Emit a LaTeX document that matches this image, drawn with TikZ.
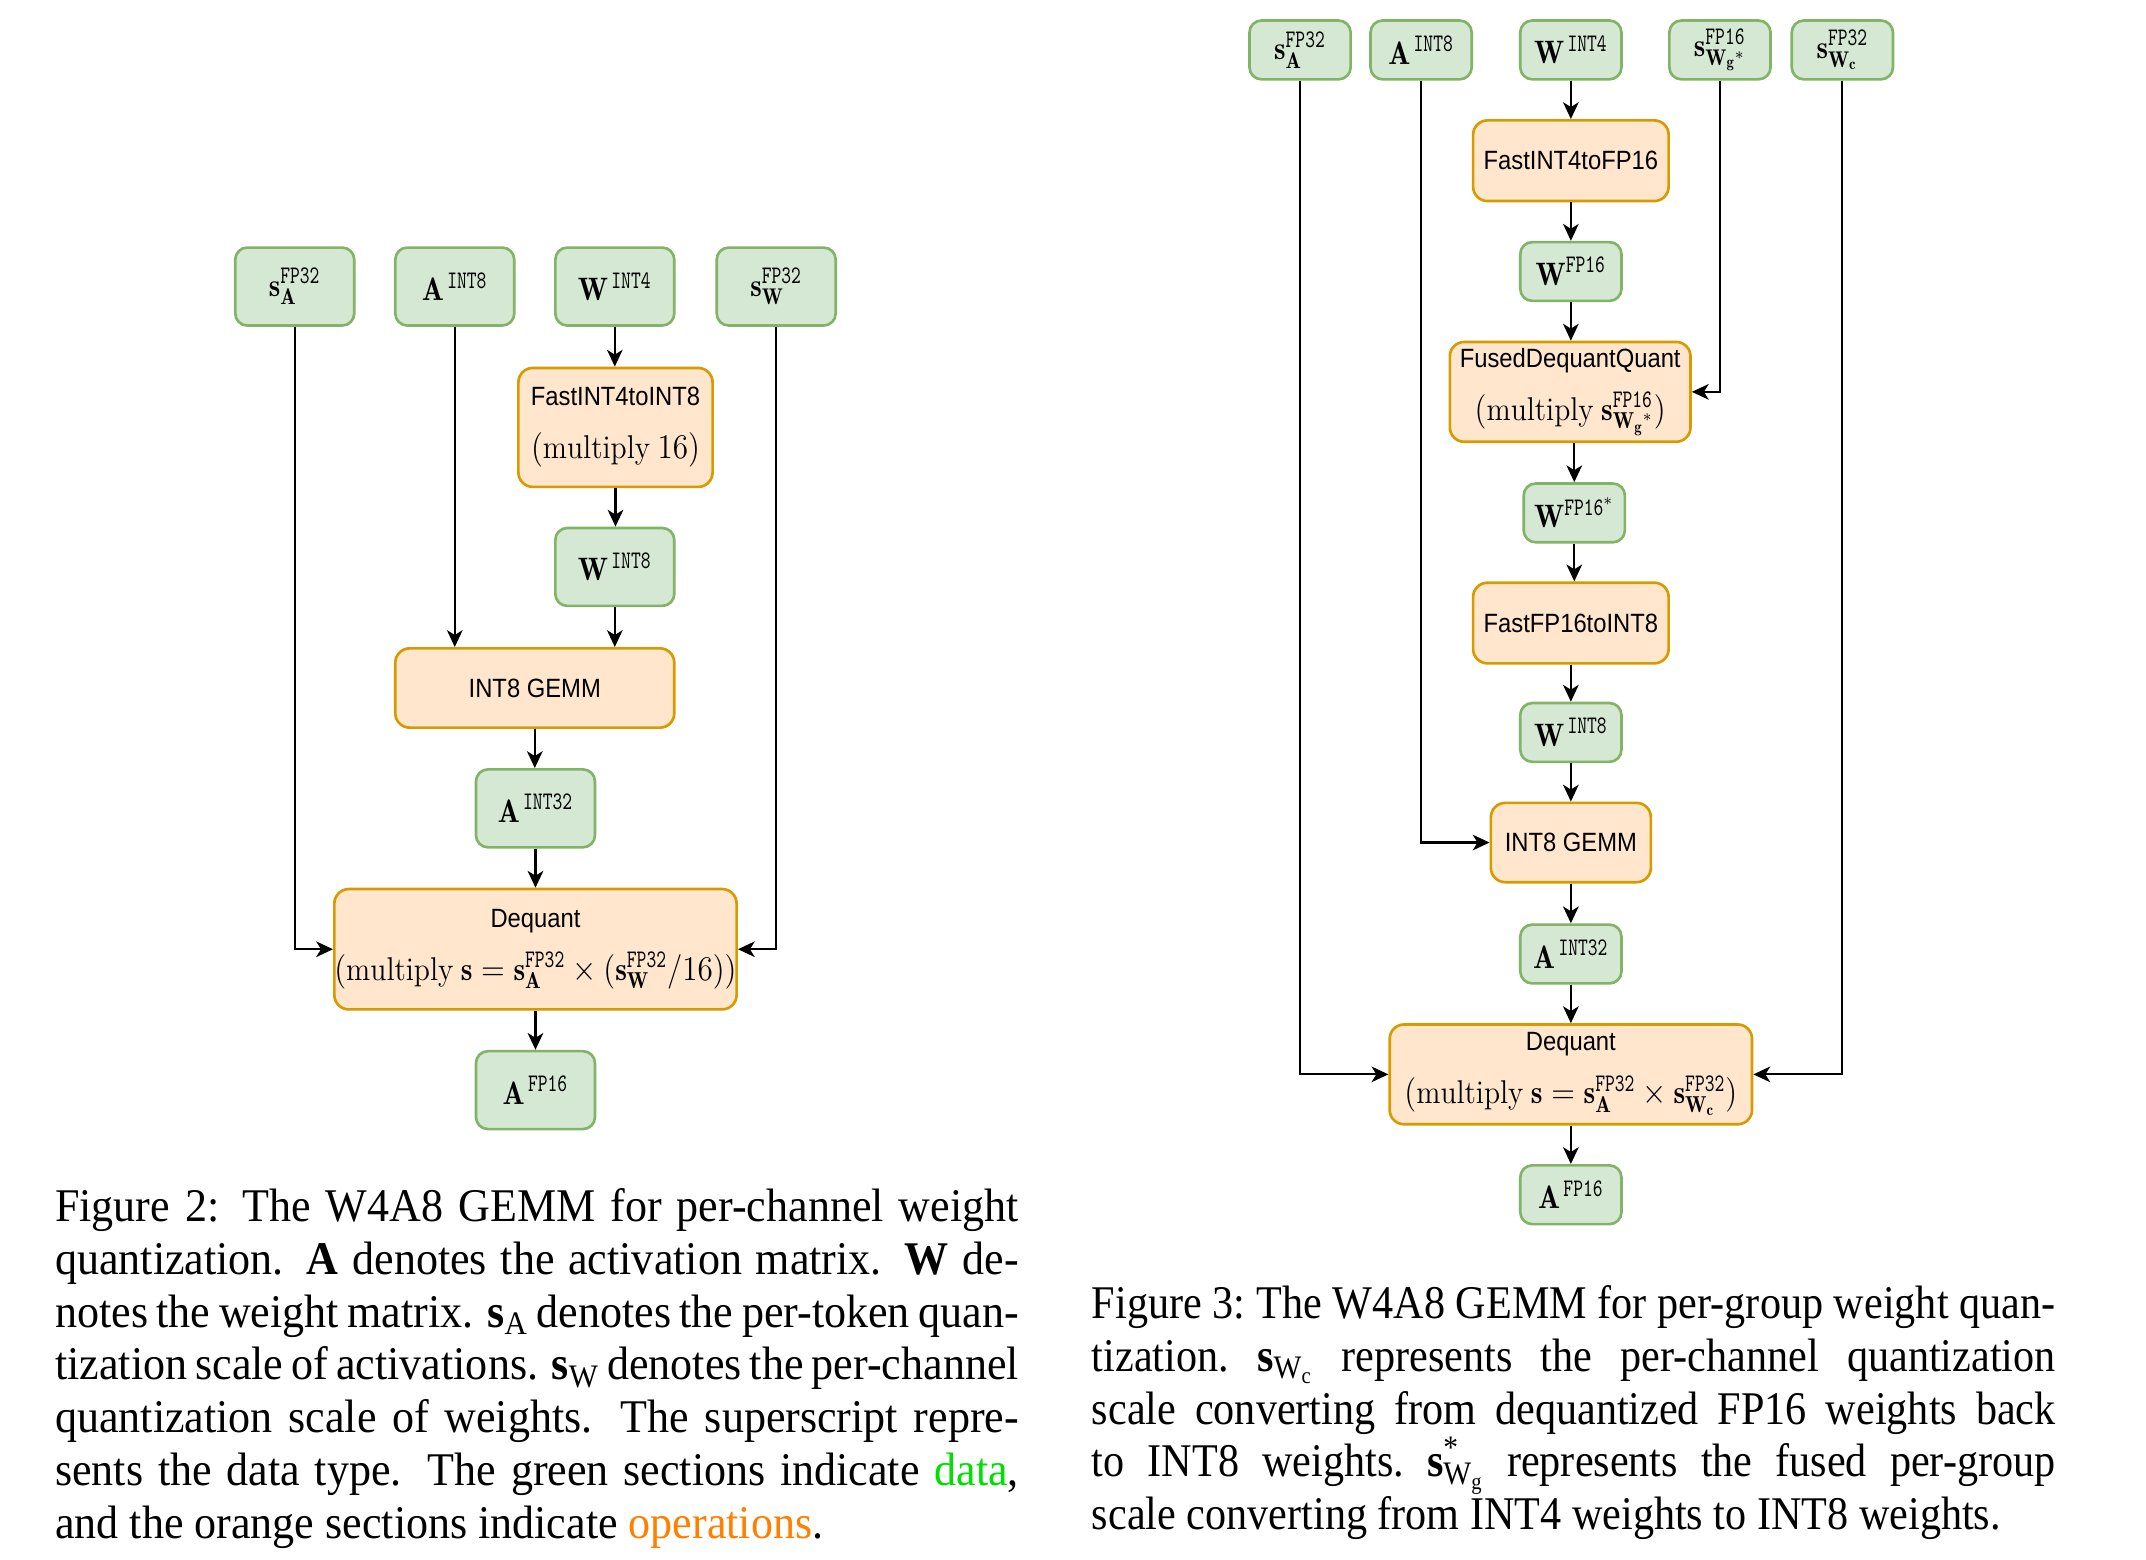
\documentclass[tikz,border=0pt]{standalone}
\usepackage{graphicx}
\usepackage{fontspec}
\newfontfamily\opfont{Liberation Sans}[FakeStretch=0.9]
\newfontfamily\capfont{Liberation Serif}[FakeStretch=0.94]
\newfontfamily\capfontb{Liberation Serif}[FakeStretch=0.9]
\newfontfamily\supfont{Latin Modern Mono}[FakeStretch=0.82]
\usetikzlibrary{arrows.meta}
\definecolor{dfill}{HTML}{D5E8D4}
\definecolor{ddraw}{HTML}{82B366}
\definecolor{ofill}{HTML}{FFE6CC}
\definecolor{odraw}{HTML}{D79B00}
\definecolor{capgreen}{HTML}{00E000}
\definecolor{caporange}{HTML}{FF8000}
\tikzset{
  dbox/.style={draw=ddraw, fill=dfill, line width=1.1pt, rounded corners=5pt, inner sep=0pt, font=\fontsize{12}{14}\selectfont},
  lsm/.style={dbox, minimum width=1.74cm, minimum height=1.14cm},
  rsm/.style={dbox, minimum width=1.48cm, minimum height=0.86cm},
  obox/.style={draw=odraw, fill=ofill, line width=1.1pt, rounded corners=6pt, inner sep=0pt, align=center, font=\fontsize{11}{22}\selectfont\opfont},
  arr/.style={-{Stealth[length=7pt,width=6.5pt,inset=2pt]}, line width=0.9pt},
  captext/.style={text width=401pt, align=justify, inner sep=0pt, font=\capfont\fontsize{19.5}{21.97}\selectfont, anchor=base west},
}
\newcommand{\ty}[1]{\mbox{\fontsize{10.5}{10.5}\selectfont\supfont #1}}
\newcommand{\lab}[1]{\scalebox{0.9}[1]{\fontsize{13.5}{15}\selectfont$#1$}}
\newcommand{\mth}[1]{\scalebox{0.9}[1]{\fontsize{13.7}{22}\selectfont$#1$}}
\begin{document}
\begin{tikzpicture}[x=0.02cm, y=-0.02cm]
\fill[white] (0,0) rectangle (1569,1140);
\useasboundingbox (0,0) rectangle (1569,1140);

% ---------------- left diagram ----------------
\node[lsm] (lsA) at (215.5,209.5) {\lab{\mathbf{s}^{\ty{FP32}}_{\mathbf{A}}}};
\node[lsm] (lA)  at (332.5,209.5) {\lab{\mathbf{A}^{\,\ty{INT8}}}};
\node[lsm] (lW)  at (449.5,209.5) {\lab{\mathbf{W}^{\,\ty{INT4}}}};
\node[lsm] (lsW) at (567.5,209.5) {\lab{\mathbf{s}^{\ty{FP32}}_{\mathbf{W}}}};
\node[obox, minimum width=2.84cm, minimum height=1.74cm] (lfast) at (450,312.5)
  {FastINT4toINT8\\\mth{(\mathrm{multiply}\ 16)}};
\node[lsm] (lW8) at (449.5,414.5) {\lab{\mathbf{W}^{\,\ty{INT8}}}};
\node[obox, minimum width=4.08cm, minimum height=1.16cm] (lgemm) at (391,503) {INT8 GEMM};
\node[lsm] (lA32) at (391.5,591) {\lab{\mathbf{A}^{\,\ty{INT32}}}};
\node[obox, minimum width=5.86cm, minimum height=1.76cm] (ldq) at (391.5,694)
  {Dequant\\\mth{(\mathrm{multiply}\ \mathbf{s}=\mathbf{s}^{\ty{FP32}}_{\mathbf{A}}\times(\mathbf{s}^{\ty{FP32}}_{\mathbf{W}}/16))}};
\node[lsm] (lA16) at (391.5,797) {\lab{\mathbf{A}^{\,\ty{FP16}}}};

\draw[arr] (lW.south) -- (lW.south |- lfast.north);
\draw[arr] (lfast.south) -- (lfast.south |- lW8.north);
\draw[arr] (lW8.south) -- (lW8.south |- lgemm.north);
\draw[arr] (lA.south) -- (lA.south |- lgemm.north);
\draw[arr] (lgemm.south) -- (lgemm.south |- lA32.north);
\draw[arr] (lA32.south) -- (lA32.south |- ldq.north);
\draw[arr] (ldq.south) -- (ldq.south |- lA16.north);
\draw[arr] (lsA.south) |- (ldq.west);
\draw[arr] (lsW.south) |- (ldq.east);

% ---------------- right diagram ----------------
\node[rsm] (rsA)  at (950.5,36.5) {\lab{\mathbf{s}^{\ty{FP32}}_{\mathbf{A}}}};
\node[rsm] (rA)   at (1039,36.5) {\lab{\mathbf{A}^{\,\ty{INT8}}}};
\node[rsm] (rW)   at (1148.5,36.5) {\lab{\mathbf{W}^{\,\ty{INT4}}}};
\node[rsm] (rsWg) at (1257.5,36.5) {\lab{\mathbf{s}^{\ty{FP16}}_{\mathbf{W}_{\mathbf{g}}{}^{*}}}};
\node[rsm] (rsWc) at (1347,36.5) {\lab{\mathbf{s}^{\ty{FP32}}_{\mathbf{W}_{\mathbf{c}}}}};
\node[obox, minimum width=2.86cm, minimum height=1.18cm] (rfast) at (1148.5,117.5) {FastINT4toFP16};
\node[rsm] (rW16) at (1148.5,198.5) {\lab{\mathbf{W}^{\ty{FP16}}}};
\node[obox, minimum width=3.52cm, minimum height=1.46cm] (rfused) at (1148,286.5)
  {FusedDequantQuant\\\mth{(\mathrm{multiply}\ \mathbf{s}^{\ty{FP16}}_{\mathbf{W}_{\mathbf{g}}{}^{*}})}};
\node[rsm] (rW16s) at (1151,375) {\lab{\mathbf{W}^{\ty{FP16}^{*}}}};
\node[obox, minimum width=2.86cm, minimum height=1.18cm] (rfast2) at (1148.5,455.5) {FastFP16toINT8};
\node[rsm] (rW8) at (1148.5,535.5) {\lab{\mathbf{W}^{\,\ty{INT8}}}};
\node[obox, minimum width=2.34cm, minimum height=1.16cm] (rgemm) at (1148.5,616) {INT8 GEMM};
\node[rsm] (rA32) at (1148.5,697.5) {\lab{\mathbf{A}^{\,\ty{INT32}}}};
\node[obox, minimum width=5.3cm, minimum height=1.46cm] (rdq) at (1148.5,785.5)
  {Dequant\\\mth{(\mathrm{multiply}\ \mathbf{s}=\mathbf{s}^{\ty{FP32}}_{\mathbf{A}}\times\mathbf{s}^{\ty{FP32}}_{\mathbf{W}_{\mathbf{c}}})}};
\node[rsm] (rA16) at (1148.5,873.5) {\lab{\mathbf{A}^{\,\ty{FP16}}}};

\draw[arr] (rW.south) -- (rW.south |- rfast.north);
\draw[arr] (rfast.south) -- (rfast.south |- rW16.north);
\draw[arr] (rW16.south) -- (rW16.south |- rfused.north);
\draw[arr] (rW16s.north |- rfused.south) -- (rW16s.north);
\draw[arr] (rW16s.south) -- (rW16s.south |- rfast2.north);
\draw[arr] (rfast2.south) -- (rfast2.south |- rW8.north);
\draw[arr] (rW8.south) -- (rW8.south |- rgemm.north);
\draw[arr] (rgemm.south) -- (rgemm.south |- rA32.north);
\draw[arr] (rA32.south) -- (rA32.south |- rdq.north);
\draw[arr] (rdq.south) -- (rdq.south |- rA16.north);
\draw[arr] (rsWg.south) |- (rfused.east);
\draw[arr] (rA.south) |- (rgemm.west);
\draw[arr] (rsA.south) |- (rdq.west);
\draw[arr] (rsWc.south) |- (rdq.east);

% ---------------- captions ----------------
\node[captext] (cap2) at (40,893) {Figure 2: The W4A8 GEMM for per-channel weight\linebreak
quantization. \textbf{A} denotes the activation matrix. \textbf{W} de-\linebreak
notes the weight matrix. \textbf{s}\textsubscript{A} denotes the per-token quan-\linebreak
tization scale of activations. \textbf{s}\textsubscript{W} denotes the per-channel\linebreak
quantization scale of weights. The superscript repre-\linebreak
sents the data type. The green sections indicate \textcolor{capgreen}{data},\linebreak
and the orange sections indicate \textcolor{caporange}{operations}.};

\node[captext, font=\capfontb\fontsize{19.5}{21.97}\selectfont\frenchspacing] (cap3) at (798,964) {Figure 3: The W4A8 GEMM for per-group weight quan-\linebreak
tization. \textbf{s}\textsubscript{W\textsubscript{c}} represents the per-channel quantization\linebreak
scale converting from dequantized FP16 weights back\linebreak
to INT8 weights. \textbf{s}\rlap{\textsuperscript{*}}\textsubscript{W\textsubscript{g}} represents the fused per-group\linebreak
scale converting from INT4 weights to INT8 weights.};
\end{tikzpicture}
\end{document}
